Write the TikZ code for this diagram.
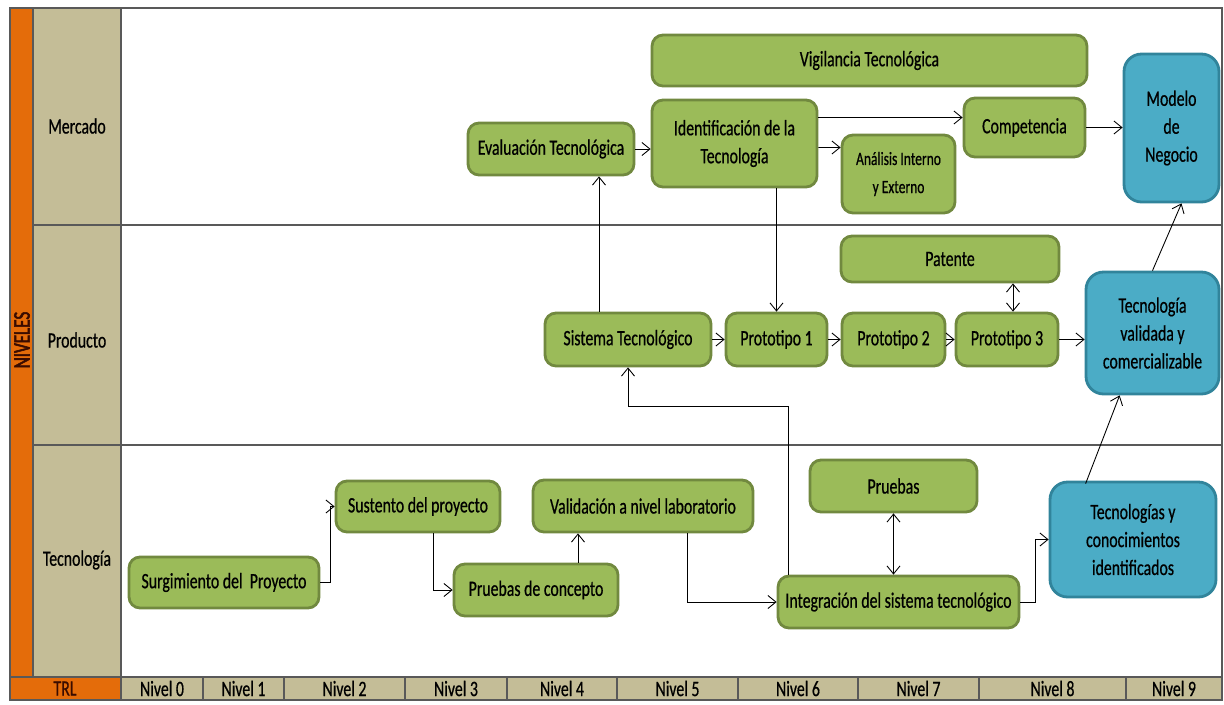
\documentclass[tikz,border=0pt]{standalone}
\usepackage{fontspec}
\setmainfont{Carlito}[FakeStretch=0.72, FakeBold=0.6]
\usetikzlibrary{arrows.meta, calc, positioning}

\definecolor{trlorange}{HTML}{E46C0A}
\definecolor{tan}{HTML}{C4BD97}
\definecolor{greenfill}{HTML}{9BBB59}
\definecolor{greenline}{HTML}{71893F}
\definecolor{bluefill}{HTML}{4BACC6}
\definecolor{blueline}{HTML}{31849B}
\definecolor{gridline}{HTML}{595959}
\definecolor{nivred}{HTML}{3A0C00}

\begin{document}
\begin{tikzpicture}[x=0.02cm, y=-0.02cm,
    box/.style={draw=greenline, fill=greenfill, line width=1.6pt, rounded corners=2.2mm,
      align=center, inner sep=0pt, font=\fontsize{12.5}{15.9}\selectfont},
    bluebox/.style={box, draw=blueline, fill=bluefill, rounded corners=3.5mm},
    flow/.style={-{Straight Barb[length=1.6mm, width=2.6mm]}, line width=0.5pt},
    both/.style={{Straight Barb[length=1.6mm, width=2.6mm]}-{Straight Barb[length=1.6mm, width=2.6mm]}, line width=0.5pt},
    lbl/.style={font=\fontsize{12.5}{14}\selectfont}]
    \useasboundingbox (0,0) rectangle (1224,704);

    % Background frame
    \fill[trlorange] (10,8) rectangle (33,677);
    \fill[tan] (33,8) rectangle (121,677);
    \fill[trlorange] (10,677) rectangle (121,700);
    \fill[tan] (121,677) rectangle (1222,700);
    \draw[gridline, line width=0.8pt] (33,225) -- (1222,225);
    \draw[gridline, line width=0.8pt] (33,445) -- (1222,445);
    \draw[gridline, line width=0.8pt] (10,677) -- (1222,677);
    \draw[gridline, line width=0.8pt] (33,8) -- (33,677);
    \draw[gridline, line width=0.8pt] (121,8) -- (121,700);
    \draw[gridline, line width=0.8pt] (10,8) rectangle (1222,700);

    % Level labels
    \node[rotate=90, font=\fontsize{13.5}{14}\selectfont, text=nivred] (niveles) at (22,340) {\addfontfeatures{FakeBold=2.2}NIVELES};
    \node[lbl] (lmer) at (77,126) {Mercado};
    \node[lbl] (lpro) at (77,340) {Producto};
    \node[lbl] (ltec) at (77,560) {Tecnología};
    \node[lbl, text=nivred] (trl) at (65,688.5) {TRL};
    \foreach \a/\b [count=\i from 0] in {121/203, 203/284, 284/405, 405/507, 507/617,
        617/738, 738/858, 858/979, 979/1126, 1126/1222} {
      \draw[gridline, line width=0.8pt] (\b,677) -- (\b,700);
      \node[lbl] (n\i) at ({(\a+\b)/2},688.5) {Nivel \i};
    }

    % Mercado
    \node[box, minimum width=8.7cm, minimum height=1.02cm] (vig) at (869.5,60.5) {Vigilancia Tecnológica};
    \node[box, minimum width=3.32cm, minimum height=1.04cm] (ev) at (551,149) {Evaluación Tecnológica};
    \node[box, minimum width=3.30cm, minimum height=1.74cm] (id) at (734.5,143.5) {Identificación de la\\Tecnología};
    \node[box, minimum width=2.42cm, minimum height=1.18cm] (comp) at (1024.5,127.5) {Competencia};
    \node[box, minimum width=2.26cm, minimum height=1.56cm, font=\fontsize{10.7}{16}\selectfont] (an) at (898.5,174) {Análisis Interno\\y Externo};
    \node[bluebox, minimum width=1.90cm, minimum height=2.96cm] (mod) at (1171.5,128) {Modelo\\de\\Negocio};

    % Producto
    \node[box, minimum width=4.36cm, minimum height=0.92cm] (pat) at (950,259) {Patente};
    \node[box, minimum width=3.32cm, minimum height=1.06cm] (sis) at (628,339.5) {Sistema Tecnológico};
    \node[box, minimum width=2.02cm, minimum height=1.06cm] (p1) at (776.5,339.5) {Prototipo 1};
    \node[box, minimum width=2.06cm, minimum height=1.06cm] (p2) at (893.5,339.5) {Prototipo 2};
    \node[box, minimum width=2.04cm, minimum height=1.06cm] (p3) at (1007,339.5) {Prototipo 3};
    \node[bluebox, minimum width=2.66cm, minimum height=2.44cm] (val) at (1152.5,333) {Tecnología\\validada y\\comercializable};

    % Tecnologia
    \node[box, minimum width=3.80cm, minimum height=1.02cm] (surg) at (224,582.5) {Surgimiento del~ Proyecto};
    \node[box, minimum width=3.28cm, minimum height=1.02cm] (sust) at (418,506.5) {Sustento del proyecto};
    \node[box, minimum width=4.40cm, minimum height=1.04cm] (lab) at (643,506) {Validación a nivel laboratorio};
    \node[box, minimum width=3.28cm, minimum height=1.04cm] (pc) at (536,590) {Pruebas de concepto};
    \node[box, minimum width=3.34cm, minimum height=1.04cm] (pru) at (893.5,486) {Pruebas};
    \node[box, minimum width=4.82cm, minimum height=1.04cm] (int) at (898.5,602) {Integración del sistema tecnológico};
    \node[bluebox, minimum width=3.32cm, minimum height=2.30cm] (tc) at (1133,539.5) {Tecnologías y\\conocimientos\\identificados};

    % Connectors
    \draw[flow] (surg.east) -- ++(10,0) |- (sust.west);
    \draw[flow] ($(sust.south)+(15,0)$) |- (pc.west);
    \draw[flow] ($(pc.north)+(42,0)$) -- ($(lab.south)+(-65,0)$);
    \draw[flow] ($(lab.south)+(44,0)$) |- (int.west);
    \draw[flow] ($(int.north west)+(12,0)$) -- ++(0,-168) -| (sis.south);
    \draw[flow] ($(sis.north)+(-29,0)$) -- ($(ev.south)+(48,0)$);
    \draw[flow] (ev.east) -- (ev.east -| id.west);
    \draw[flow] (id.south -| p1.north) -- (p1.north);
    \draw[flow] ($(id.east)+(0,-26)$) -- ($(comp.west)+(0,-10)$);
    \draw[flow] ($(id.east)+(0,4)$) -- ($(an.west)+(0,-26.5)$);
    \draw[flow] (comp.east) -- (comp.east -| mod.west);
    \draw[flow] (sis.east) -- (p1.west);
    \draw[flow] (p1.east) -- (p2.west);
    \draw[flow] (p2.east) -- (p3.west);
    \draw[flow] (p3.east) -- (p3.east -| val.west);
    \draw[both] ($(pat.south)+(63,0)$) -- ($(p3.north)+(6,0)$);
    \draw[both] (pru.south) -- (pru.south |- int.north);
    \draw[flow] (int.east) -- ++(15,0) |- (tc.west);
    \draw[flow] ($(tc.north west)+(37,3)$) -- ($(val.south west)+(35,0)$);
    \draw[flow] (val.north) -- ($(mod.south)+(10,0)$);
\end{tikzpicture}
\end{document}
